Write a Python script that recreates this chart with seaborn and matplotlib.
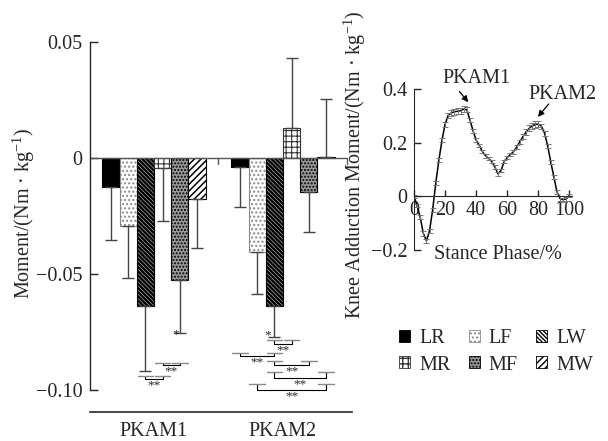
import numpy as np
import pandas as pd
import matplotlib
matplotlib.use("Agg")
from matplotlib import pyplot as plt
from matplotlib.patches import Patch
import seaborn as sns

# 柱状图数据
phases = ["PKAM1", "PKAM2"]
conditions = ["LR", "LF", "LW", "MR", "MF", "MW"]
mean_pkam1 = [-0.0125, -0.0293, -0.0638, -0.0043, -0.0527, -0.0177]
sd_pkam1 = [0.0228, 0.0224, 0.0282, 0.0227, 0.0228, 0.0211]
mean_pkam2 = [-0.0037, -0.0405, -0.0638, 0.0130, -0.0147, 0.0005]
sd_pkam2 = [0.0173, 0.0181, 0.0132, 0.0301, 0.0173, 0.0250]

# 膝内收力矩曲线 (每 2%)
phase_pct = list(range(0, 101, 2))
kam_mean = [0.0, -0.035, -0.078, -0.138, -0.166, -0.128, -0.05, 0.05, 0.135, 0.21,
            0.27, 0.303, 0.312, 0.316, 0.318, 0.32, 0.326, 0.324, 0.285, 0.245,
            0.21, 0.19, 0.168, 0.152, 0.142, 0.13, 0.11, 0.084, 0.097, 0.13,
            0.145, 0.157, 0.167, 0.184, 0.204, 0.223, 0.24, 0.254, 0.263, 0.269,
            0.27, 0.262, 0.236, 0.188, 0.128, 0.072, 0.016, -0.008, -0.012, -0.009,
            0.004]
kam_sd = [0.004, 0.006, 0.008, 0.008, 0.008, 0.008, 0.008, 0.008, 0.008, 0.008,
          0.009, 0.010, 0.012, 0.012, 0.012, 0.012, 0.012, 0.010, 0.008, 0.008,
          0.008, 0.007, 0.007, 0.007, 0.007, 0.007, 0.007, 0.007, 0.007, 0.007,
          0.007, 0.007, 0.008, 0.008, 0.008, 0.009, 0.010, 0.011, 0.012, 0.012,
          0.012, 0.010, 0.009, 0.008, 0.008, 0.008, 0.008, 0.008, 0.008, 0.008,
          0.006]

# 显著性标注: (阶段, 柱1, 柱2, 端点高度, 横线高度, 文本)
brackets = [
    (0, 2, 3, -0.0940, -0.0953, "**"),
    (0, 3, 4, -0.0884, -0.0892, "**"),
    (1, 2, 3, -0.0784, -0.0802, "**"),
    (1, 0, 2, -0.0840, -0.0853, "**"),
    (1, 2, 4, -0.0875, -0.0892, "**"),
    (1, 2, 5, -0.0922, -0.0948, "**"),
    (1, 1, 5, -0.0974, -0.1000, "**"),
]
single_stars = [(0, 4, -0.03, -0.0762), (1, 2, -0.055, -0.0765)]

sns.set_style("ticks")
plt.rcParams["font.family"] = ["Liberation Serif", "DejaVu Serif"]
plt.rcParams["mathtext.fontset"] = "custom"
plt.rcParams["mathtext.rm"] = "Liberation Serif"
plt.rcParams["mathtext.it"] = "Liberation Serif:italic"
plt.rcParams["hatch.linewidth"] = 1.0
plt.rcParams["axes.unicode_minus"] = True
FS = 14.5

df = pd.DataFrame({
    "phase": phases * len(conditions),
    "cond": [c for c in conditions for _ in phases],
    "value": [v for pair in zip(mean_pkam1, mean_pkam2) for v in pair],
})

styles = {
    "LR": dict(fc="black", hatch="", ec="black", hlw=1.0),
    "LF": dict(fc="white", hatch="....", ec="#8a8a8a", hlw=1.0),
    "LW": dict(fc="white", hatch="\\" * 8, ec="black", hlw=1.8),
    "MR": dict(fc="white", hatch="+++", ec="#333333", hlw=0.8),
    "MF": dict(fc="#9a9a9a", hatch=".....", ec="black", hlw=1.0),
    "MW": dict(fc="white", hatch="/////", ec="black", hlw=1.1),
}


def set_hlw(p, lw):
    if hasattr(p, "set_hatch_linewidth"):
        p.set_hatch_linewidth(lw)


fig = plt.figure(figsize=(6.08, 4.41), dpi=100)
ax = fig.add_axes([90 / 608, 1 - 412 / 441, 262 / 608, 393 / 441])

sns.barplot(data=df, x="phase", y="value", hue="cond", order=phases,
            hue_order=conditions, palette=["white"] * 6, saturation=1,
            errorbar=None, legend=False, ax=ax, width=0.8)

bar_containers = list(ax.containers)
centers = {}
for h, cont in enumerate(bar_containers):
    st = styles[conditions[h]]
    sds = [sd_pkam1[h], sd_pkam2[h]]
    for c, bar in enumerate(cont):
        bar.set_facecolor(st["fc"])
        bar.set_edgecolor(st["ec"])
        bar.set_hatch(st["hatch"])
        set_hlw(bar, st["hlw"])
        bar.set_linewidth(0.8)
        xc = bar.get_x() + bar.get_width() / 2
        centers[(c, h)] = xc
        v = bar.get_height()
        if v < 0:
            ax.errorbar(xc, v, yerr=[[sds[c]], [0]], fmt="none", ecolor="#444444",
                        elinewidth=1, capsize=4.5, capthick=1)
        else:
            ax.errorbar(xc, v, yerr=[[0], [sds[c]]], fmt="none", ecolor="#444444",
                        elinewidth=1, capsize=4.5, capthick=1)

# 零线及分组刻度
ax.plot([-0.5, 1.5], [0, 0], color="#555555", lw=1, zorder=1)
for xb in [0.5, 1.5]:
    ax.plot([xb, xb], [0, -0.0028], color="#555555", lw=1)

for c, i, j, ycap, yline, txt in brackets:
    x1, x2 = centers[(c, i)], centers[(c, j)]
    ax.plot([x1, x1, x2, x2], [ycap, yline, yline, ycap], color="black", lw=0.8)
    for xx in (x1, x2):
        ax.plot([xx - 0.06, xx + 0.06], [ycap, ycap], color="#888888", lw=1)
    ax.text((x1 + x2) / 2, yline - 0.0003, txt, ha="center", va="top", fontsize=9.5)
for c, i, dx, y in single_stars:
    ax.text(centers[(c, i)] + dx, y, "*", ha="center", va="center", fontsize=9.5)

ax.set_xlim(-0.496, 1.535)
ax.set_ylim(-0.1095, 0.0599)
ax.set_yticks([-0.10, -0.05, 0, 0.05])
ax.set_yticklabels(["\u22120.10", "\u22120.05", "0", "0.05"])
ax.set_xticks([0, 1])
ax.set_xticklabels(phases)
ax.tick_params(axis="y", direction="in", length=6, width=1, pad=5.5, labelsize=FS)
ax.tick_params(axis="x", length=0, pad=7, labelsize=FS)
ax.set_xlabel("")
ax.set_ylabel("")
sns.despine(ax=ax)
ax.spines["left"].set_bounds(-0.10, 0.05)
ax.spines["left"].set_linewidth(1)
ax.spines["bottom"].set_linewidth(1.2)
fig.text(24 / 608, 1 - 214 / 441, "Moment/(Nm \u00b7 kg$^{-1}$)", rotation=90,
         ha="center", va="center", fontsize=FS)

# 右侧曲线
ax2 = fig.add_axes([414 / 608, 1 - 250 / 441, 157.8 / 608, 160.7 / 441])
sns.lineplot(x=phase_pct, y=kam_mean, ax=ax2, color="black", lw=1.1)
ax2.errorbar(phase_pct, kam_mean, yerr=kam_sd, fmt="none", ecolor="#777777",
             elinewidth=0.7, capsize=2, capthick=0.7)
sns.despine(ax=ax2)
ax2.spines["bottom"].set_position(("data", 0))
ax2.spines["left"].set_bounds(-0.2, 0.4)
ax2.set_xlim(0, 101.5)
ax2.set_ylim(-0.2, 0.4)
ax2.set_xticks([0, 20, 40, 60, 80, 100])
ax2.set_xticklabels(["0", "20", "40", "60", "80", "100"])
ax2.set_yticks([-0.2, 0, 0.2, 0.4])
ax2.set_yticklabels(["\u22120.2", "0", "0.2", "0.4"])
ax2.tick_params(axis="y", direction="in", length=5, width=1, pad=4.5, labelsize=FS)
ax2.tick_params(axis="x", direction="in", length=4, width=1, pad=3, labelsize=FS)
ax2.text(0.535, -0.025, "Stance Phase/%", transform=ax2.transAxes,
         ha="center", va="center", fontsize=FS)
ax2.text(39.9, 0.44, "PKAM1", ha="center", va="center", fontsize=FS, clip_on=False)
ax2.text(95.2, 0.379, "PKAM2", ha="center", va="center", fontsize=FS, clip_on=False)
arrow_kw = dict(arrowstyle="-|>", color="black", lw=0.9, shrinkA=0, shrinkB=0,
                mutation_scale=9)
ax2.annotate("", xy=(34.9, 0.352), xytext=(29.2, 0.392), arrowprops=arrow_kw,
             annotation_clip=False)
ax2.annotate("", xy=(79.7, 0.297), xytext=(86.6, 0.345), arrowprops=arrow_kw,
             annotation_clip=False)
fig.text(355 / 608, 1 - 165 / 441, "Knee Adduction Moment/(Nm \u00b7 kg$^{-1}$)",
         rotation=90, ha="center", va="center", fontsize=FS)

# 图例
order = ["LR", "MR", "LF", "MF", "LW", "MW"]
handles = []
for k in order:
    p = Patch(facecolor=styles[k]["fc"], edgecolor=styles[k]["ec"],
              hatch=styles[k]["hatch"], lw=0.6, label=k)
    set_hlw(p, styles[k]["hlw"])
    handles.append(p)
fig.legend(handles=handles, loc="center", bbox_to_anchor=(496 / 608, 1 - 352 / 441),
           ncol=3, frameon=False, fontsize=FS, handlelength=0.55, handleheight=0.55,
           handletextpad=0.45, columnspacing=0.9, labelspacing=0.35)

fig.savefig("out.png", dpi=100)
